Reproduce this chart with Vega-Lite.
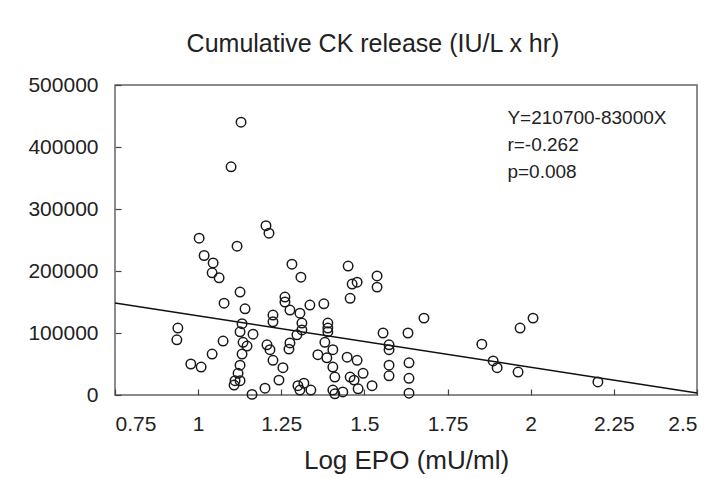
{
  "$schema": "https://vega.github.io/schema/vega-lite/v6.json",
  "autosize": {"type": "none"},
  "width": 582,
  "height": 310,
  "padding": {"left": 115, "top": 85, "right": 27, "bottom": 83},
  "background": "white",
  "config": {
    "font": "Liberation Sans",
    "view": {"stroke": "#666", "strokeWidth": 1.5},
    "axis": {
      "grid": false,
      "domain": false,
      "tickSize": -6,
      "tickColor": "#444",
      "tickWidth": 1.2,
      "labelFont": "Liberation Sans",
      "labelFontSize": 21,
      "labelColor": "#222",
      "titleFont": "Liberation Sans",
      "titleFontSize": 26,
      "titleFontWeight": "normal",
      "titleColor": "#222"
    }
  },
  "title": {
    "text": "Cumulative CK release (IU/L x hr)",
    "fontSize": 25,
    "fontWeight": "normal",
    "color": "#222",
    "font": "Liberation Sans",
    "anchor": "middle",
    "dx": -33,
    "offset": 17
  },
  "datasets": {
    "points": [
      {"epo": 1.129, "ck": 440000}, {"epo": 1.099, "ck": 368000}, {"epo": 1.204, "ck": 273000}, {"epo": 1.213, "ck": 261000},
      {"epo": 1.003, "ck": 253000}, {"epo": 1.117, "ck": 240000}, {"epo": 1.018, "ck": 225000}, {"epo": 1.045, "ck": 213000},
      {"epo": 1.042, "ck": 197000}, {"epo": 1.063, "ck": 189000}, {"epo": 1.126, "ck": 166000}, {"epo": 1.078, "ck": 148000},
      {"epo": 1.141, "ck": 139000}, {"epo": 0.939, "ck": 108000}, {"epo": 0.936, "ck": 89000}, {"epo": 1.075, "ck": 87000},
      {"epo": 1.042, "ck": 66000}, {"epo": 0.978, "ck": 50000}, {"epo": 1.009, "ck": 45000}, {"epo": 1.162, "ck": 1000},
      {"epo": 1.201, "ck": 11000}, {"epo": 1.132, "ck": 115000}, {"epo": 1.126, "ck": 102000}, {"epo": 1.165, "ck": 98000},
      {"epo": 1.135, "ck": 85000}, {"epo": 1.147, "ck": 79000}, {"epo": 1.132, "ck": 66000}, {"epo": 1.126, "ck": 48000},
      {"epo": 1.12, "ck": 35000}, {"epo": 1.111, "ck": 23000}, {"epo": 1.108, "ck": 16000}, {"epo": 1.126, "ck": 23000},
      {"epo": 1.282, "ck": 211000}, {"epo": 1.309, "ck": 190000}, {"epo": 1.261, "ck": 158000}, {"epo": 1.261, "ck": 150000},
      {"epo": 1.276, "ck": 137000}, {"epo": 1.336, "ck": 145000}, {"epo": 1.306, "ck": 132000}, {"epo": 1.225, "ck": 129000},
      {"epo": 1.225, "ck": 118000}, {"epo": 1.312, "ck": 116000}, {"epo": 1.312, "ck": 105000}, {"epo": 1.297, "ck": 97000},
      {"epo": 1.276, "ck": 84000}, {"epo": 1.273, "ck": 74000}, {"epo": 1.207, "ck": 81000}, {"epo": 1.216, "ck": 73000},
      {"epo": 1.225, "ck": 56000}, {"epo": 1.255, "ck": 44000}, {"epo": 1.243, "ck": 24000}, {"epo": 1.3, "ck": 15000},
      {"epo": 1.318, "ck": 19000}, {"epo": 1.339, "ck": 8000}, {"epo": 1.306, "ck": 8000}, {"epo": 1.36, "ck": 65000},
      {"epo": 1.381, "ck": 85000}, {"epo": 1.387, "ck": 60000}, {"epo": 1.378, "ck": 147000}, {"epo": 1.39, "ck": 116000},
      {"epo": 1.39, "ck": 108000}, {"epo": 1.39, "ck": 102000}, {"epo": 1.405, "ck": 73000}, {"epo": 1.405, "ck": 45000},
      {"epo": 1.411, "ck": 29000}, {"epo": 1.405, "ck": 8000}, {"epo": 1.411, "ck": 2000}, {"epo": 1.435, "ck": 5000},
      {"epo": 1.451, "ck": 208000}, {"epo": 1.463, "ck": 179000}, {"epo": 1.478, "ck": 182000}, {"epo": 1.457, "ck": 156000},
      {"epo": 1.538, "ck": 192000}, {"epo": 1.538, "ck": 174000}, {"epo": 1.448, "ck": 61000}, {"epo": 1.478, "ck": 56000},
      {"epo": 1.457, "ck": 29000}, {"epo": 1.469, "ck": 24000}, {"epo": 1.496, "ck": 35000}, {"epo": 1.523, "ck": 15000},
      {"epo": 1.481, "ck": 10000}, {"epo": 1.556, "ck": 100000}, {"epo": 1.574, "ck": 81000}, {"epo": 1.574, "ck": 73000},
      {"epo": 1.574, "ck": 48000}, {"epo": 1.574, "ck": 31000}, {"epo": 1.631, "ck": 100000}, {"epo": 1.679, "ck": 124000},
      {"epo": 1.634, "ck": 52000}, {"epo": 1.634, "ck": 27000}, {"epo": 1.634, "ck": 3000}, {"epo": 1.853, "ck": 82000},
      {"epo": 1.887, "ck": 55000}, {"epo": 1.899, "ck": 44000}, {"epo": 1.962, "ck": 37000}, {"epo": 1.968, "ck": 108000},
      {"epo": 2.007, "ck": 124000}, {"epo": 2.202, "ck": 21000}
    ],
    "fit": [
      {"epo": 0.75, "ck": 148450},
      {"epo": 2.5, "ck": 3200}
    ],
    "notes": [
      {"epo": 1.93, "ck": 447000, "label": "Y=210700-83000X"},
      {"epo": 1.93, "ck": 403000, "label": "r=-0.262"},
      {"epo": 1.93, "ck": 360000, "label": "p=0.008"}
    ]
  },
  "layer": [
    {
      "data": {"name": "fit"},
      "mark": {"type": "line", "color": "#111", "strokeWidth": 1.4},
      "encoding": {
        "x": {"field": "epo", "type": "quantitative", "scale": {"domain": [0.75, 2.5], "nice": false, "zero": false},
          "axis": {"values": [0.75, 1, 1.25, 1.5, 1.75, 2, 2.25, 2.5], "format": ".4~g", "labelPadding": 24, "title": "Log EPO (mU/ml)", "titlePadding": 13}},
        "y": {"field": "ck", "type": "quantitative", "scale": {"domain": [0, 500000], "nice": false},
          "axis": {"values": [0, 100000, 200000, 300000, 400000, 500000], "format": "d", "labelPadding": 23, "title": null}}
      }
    },
    {
      "data": {"name": "points"},
      "mark": {"type": "point", "shape": "circle", "filled": false, "size": 90, "strokeWidth": 1.5, "color": "#1a1a1a", "opacity": 1},
      "encoding": {
        "x": {"field": "epo", "type": "quantitative"},
        "y": {"field": "ck", "type": "quantitative"}
      }
    },
    {
      "data": {"name": "notes"},
      "mark": {"type": "text", "align": "left", "baseline": "middle", "fontSize": 19, "color": "#222", "font": "Liberation Sans"},
      "encoding": {
        "x": {"field": "epo", "type": "quantitative"},
        "y": {"field": "ck", "type": "quantitative"},
        "text": {"field": "label"}
      }
    }
  ]
}
